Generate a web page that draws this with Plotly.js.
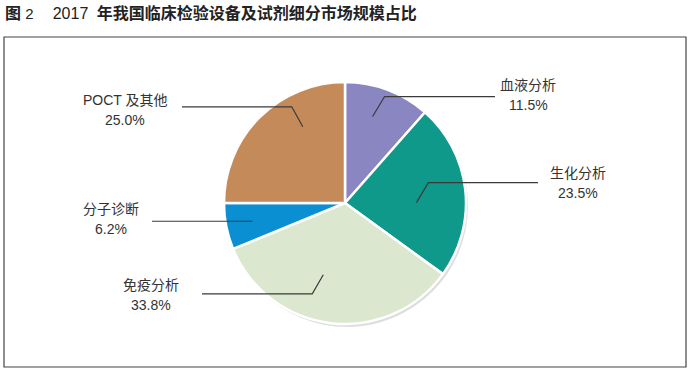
<!DOCTYPE html>
<html>
<head>
<meta charset="utf-8">
<script src="https://cdn.plot.ly/plotly-3.0.1.min.js"></script>
<style>html,body{margin:0;padding:0;background:#fff;}#chart{width:690px;height:372px;}</style>
</head>
<body>
<div id="chart"></div>
<script>
// ---- data ----
const categories = ['血液分析', '生化分析', '免疫分析', '分子诊断', 'POCT 及其他'];
const shares = [11.5, 23.5, 33.8, 6.2, 25.0];
const shareLabels = ['11.5%', '23.5%', '33.8%', '6.2%', '25.0%'];
const figureChar = '图';
const figureNum = '2';
const titleYear = '2017';
const titleRest = '年我国临床检验设备及试剂细分市场规模占比';

// ---- style ----
const W = 690, H = 372;
const cx = 345, cy = 203, R = 121;
const colors = ['#8a86c2', '#0f998a', '#dbe8cf', '#0b8fd3', '#c48a59'];
const tipOffsetDeg = [-3, 6, 10, 0, 16];
const tipRFrac = [0.75, 0.59, 0.62, 0.78, 0.72];
const elbowDelta = [[12, -20], [12, -20], [-11, 19], [0, 0], [-11, -20]];
const lineEndX = [495, 538, 202, 152, 182];
const labelPos = [[528, 85], [578, 173], [151, 285], [111, 209], [125, 100]];
const lineGap = 20;
const fontFamily = '"Liberation Sans", "Noto Sans CJK SC", sans-serif';

const px = x => x / W;
const py = y => 1 - y / H;

const total = shares.reduce((a, b) => a + b, 0);
const shapes = [];
const annotations = [];

// soft shadow under the pie
shapes.push({type: 'circle', xref: 'paper', yref: 'paper', layer: 'below',
  x0: px(cx - R + 2), x1: px(cx + R + 2), y0: py(cy + R + 3), y1: py(cy - R + 3),
  fillcolor: 'rgba(0,0,0,0.13)', line: {width: 0}});

let start = 0;
shares.forEach((v, i) => {
  const ang = v / total * 360;
  const mid = start + ang / 2;
  start += ang;
  const th = (mid + tipOffsetDeg[i]) * Math.PI / 180;
  const r = R * tipRFrac[i];
  const tx = cx + r * Math.sin(th), ty = cy - r * Math.cos(th);
  const ex = tx + elbowDelta[i][0], ey = ty + elbowDelta[i][1];
  const path = `M ${px(tx)},${py(ty)} L ${px(ex)},${py(ey)} L ${px(lineEndX[i])},${py(ey)}`;
  shapes.push({type: 'path', xref: 'paper', yref: 'paper', path: path,
    line: {color: '#3a3a3a', width: 1.2}});
  [categories[i], shareLabels[i]].forEach((t, k) => {
    annotations.push({xref: 'paper', yref: 'paper', x: px(labelPos[i][0]), y: py(labelPos[i][1] + k * lineGap),
      xanchor: 'center', yanchor: 'middle', align: 'center', showarrow: false,
      text: t, font: {family: fontFamily, size: 14, color: '#333'}});
  });
});

// frame
shapes.push({type: 'rect', xref: 'paper', yref: 'paper', x0: px(4), x1: px(686), y0: py(367), y1: py(37),
  line: {color: '#444', width: 1.2}, layer: 'below'});

const trace = {
  type: 'pie',
  values: shares,
  labels: categories,
  sort: false,
  direction: 'clockwise',
  rotation: 0,
  textinfo: 'none',
  hoverinfo: 'skip',
  marker: {colors: colors, line: {color: '#ffffff', width: 2.5}},
  domain: {x: [px(cx - R), px(cx + R)], y: [py(cy + R), py(cy - R)]},
  showlegend: false
};

const titleHtml = '<span style="font-size:16px"><b>' + figureChar + '</b></span> ' + figureNum + '　 ' +
  '<span style="font-size:16px">' + titleYear + '</span>  <span style="font-size:16px"><b>' + titleRest + '</b></span>';

const layout = {
  width: W, height: H,
  margin: {l: 0, r: 0, t: 0, b: 0},
  paper_bgcolor: '#fff',
  showlegend: false,
  title: {text: titleHtml,
    x: 5 / W, xanchor: 'left', xref: 'container', yref: 'container',
    y: 1 - 14 / H, yanchor: 'middle',
    font: {family: fontFamily, size: 15, color: '#222'}},
  shapes: shapes,
  annotations: annotations
};

Plotly.newPlot('chart', [trace], layout, {staticPlot: true, displayModeBar: false});
</script>
</body>
</html>
